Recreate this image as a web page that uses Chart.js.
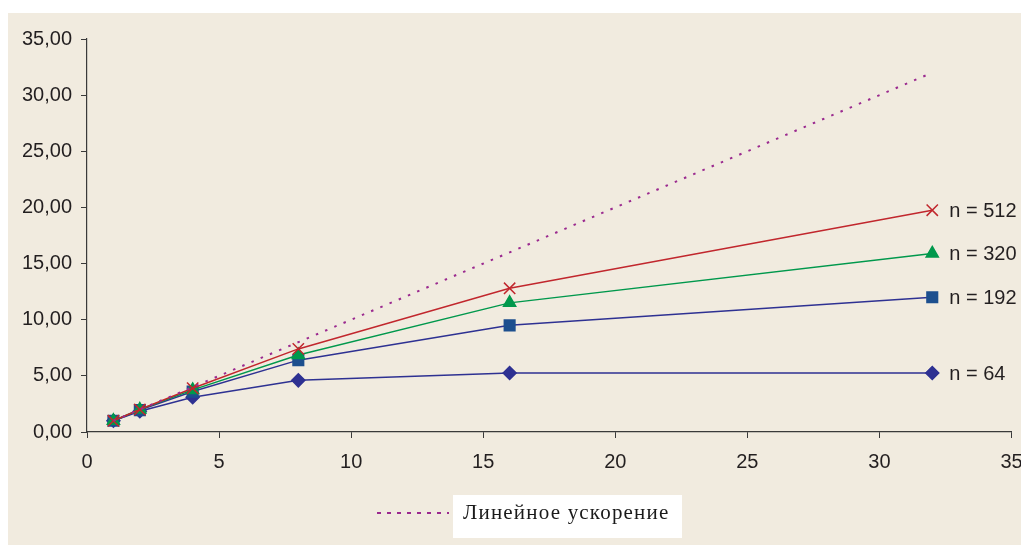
<!DOCTYPE html>
<html>
<head>
<meta charset="utf-8">
<script src="https://cdn.jsdelivr.net/npm/chart.js@4.4.0/dist/chart.umd.min.js"></script>
<style>
  html, body { margin: 0; padding: 0; background: #ffffff; }
  #wrap { width: 1021px; height: 545px; position: relative; }
</style>
</head>
<body>
<div id="wrap"><canvas id="speedup" width="1021" height="545"></canvas></div>
<script>
// processor counts on the x axis
const procs = [1, 2, 4, 8, 16, 32];

// speedup for each problem size
const n64  = [1.00, 1.85, 3.10, 4.60, 5.25, 5.25];
const n192 = [1.00, 1.95, 3.60, 6.40, 9.50, 12.00];
const n320 = [1.00, 2.00, 3.75, 6.85, 11.50, 15.90];
const n512 = [1.00, 2.00, 3.90, 7.40, 12.80, 19.75];
const linear = [1, 2, 4, 8, 16, 32];

const seriesNames = ['n = 64', 'n = 192', 'n = 320', 'n = 512'];
const linearName = 'Линейное ускорение';

const yTicks = [0, 5, 10, 15, 20, 25, 30, 35];
const xTicks = [0, 5, 10, 15, 20, 25, 30, 35];

Chart.defaults.font.family = '"Liberation Sans", Arial, sans-serif';
Chart.defaults.font.size = 20;
Chart.defaults.color = '#231f20';

const pts = (ys) => procs.map((x, i) => ({ x: x, y: ys[i] }));

const panelBg = {
    id: 'panelBg',
    beforeDraw(chart) {
        const ctx = chart.ctx;
        ctx.save();
        ctx.fillStyle = '#f1ebdf';
        ctx.fillRect(8, 13, chart.width - 8, chart.height - 13);
        ctx.restore();
    }
};

// "n = ..." captions next to the last point of each series
const endLabels = {
    id: 'endLabels',
    afterDatasetsDraw(chart) {
        const ctx = chart.ctx;
        ctx.save();
        ctx.font = '20px "Liberation Sans", Arial, sans-serif';
        ctx.fillStyle = '#231f20';
        ctx.textBaseline = 'middle';
        chart.data.datasets.forEach((ds, i) => {
            if (!ds.endLabel) return;
            const meta = chart.getDatasetMeta(i);
            const last = meta.data[meta.data.length - 1];
            ctx.fillText(ds.label, last.x + 17, last.y + 1);
        });
        ctx.restore();
    }
};

// legend: dotted sample + white box with serif text
const linearLegend = {
    id: 'linearLegend',
    afterDraw(chart) {
        const ctx = chart.ctx;
        ctx.save();
        ctx.fillStyle = '#ffffff';
        ctx.fillRect(453, 495, 229, 43);
        ctx.strokeStyle = '#9b2a8f';
        ctx.lineWidth = 2;
        ctx.setLineDash([4, 6]);
        ctx.beginPath();
        ctx.moveTo(377, 513);
        ctx.lineTo(449, 513);
        ctx.stroke();
        ctx.setLineDash([]);
        ctx.fillStyle = '#1a1a1a';
        ctx.font = '21px "Liberation Serif", "DejaVu Serif", serif';
        ctx.letterSpacing = '1.2px';
        ctx.textBaseline = 'alphabetic';
        ctx.fillText(linearName, 463, 519);
        ctx.restore();
    }
};

new Chart(document.getElementById('speedup'), {
    type: 'line',
    data: {
        datasets: [{
            label: linearName,
            data: pts(linear),
            borderColor: '#9b2a8f',
            borderWidth: 2,
            borderDash: [2.5, 7.5],
            pointRadius: 0,
            order: 0
        }, {
            label: seriesNames[0],
            data: pts(n64),
            borderColor: '#2e3192',
            backgroundColor: '#2e3192',
            borderWidth: 1.5,
            pointStyle: 'rectRot',
            pointRadius: 6.5,
            endLabel: true,
            order: 4
        }, {
            label: seriesNames[1],
            data: pts(n192),
            borderColor: '#2e3192',
            backgroundColor: '#1d4f8e',
            pointBorderColor: '#1d4f8e',
            borderWidth: 1.5,
            pointStyle: 'rect',
            pointRadius: 7.5,
            endLabel: true,
            order: 3
        }, {
            label: seriesNames[2],
            data: pts(n320),
            borderColor: '#00984c',
            backgroundColor: '#00984c',
            borderWidth: 1.5,
            pointStyle: 'triangle',
            pointRadius: 7,
            endLabel: true,
            order: 2
        }, {
            label: seriesNames[3],
            data: pts(n512),
            borderColor: '#c1272d',
            backgroundColor: '#c1272d',
            borderWidth: 1.5,
            pointStyle: 'crossRot',
            pointRadius: 8,
            pointBorderWidth: 1.5,
            endLabel: true,
            order: 1
        }]
    },
    options: {
        responsive: false,
        animation: false,
        events: [],
        layout: { padding: { left: 0, right: 9, top: 39, bottom: 0 } },
        plugins: {
            legend: { display: false },
            tooltip: { enabled: false }
        },
        scales: {
            x: {
                type: 'linear',
                min: 0,
                max: 35,
                afterBuildTicks: (s) => { s.ticks = xTicks.map(v => ({ value: v })); },
                afterFit: (s) => { s.height = 113; s.paddingRight = 0; s.paddingLeft = 0; },
                grid: { drawOnChartArea: false, tickLength: 6, color: '#3a3a3a', lineWidth: 1 },
                border: { color: '#3a3a3a', width: 1.2 },
                ticks: { padding: 12, maxRotation: 0 }
            },
            y: {
                min: 0,
                max: 35,
                afterBuildTicks: (s) => { s.ticks = yTicks.map(v => ({ value: v })); },
                afterFit: (s) => { s.width = 87; s.paddingTop = 0; s.paddingBottom = 0; },
                grid: { drawOnChartArea: false, tickLength: 6, color: '#3a3a3a', lineWidth: 1 },
                border: { color: '#3a3a3a', width: 1.2 },
                ticks: {
                    padding: 9,
                    callback: (v) => v.toFixed(2).replace('.', ',')
                }
            }
        }
    },
    plugins: [panelBg, endLabels, linearLegend]
});
</script>
</body>
</html>
